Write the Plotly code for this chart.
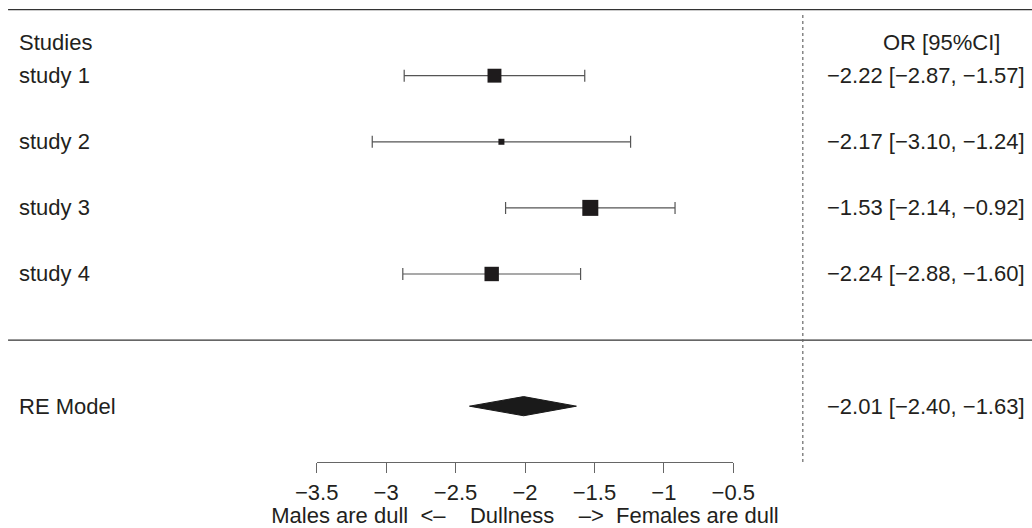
import plotly.graph_objects as go

# ---- data ----
studies = ["study 1", "study 2", "study 3", "study 4"]
est = [-2.22, -2.17, -1.53, -2.24]
ci_lo = [-2.87, -3.10, -2.14, -2.88]
ci_hi = [-1.57, -1.24, -0.92, -1.60]
row_y = [4, 3, 2, 1]

re_label = "RE Model"
re_est = -2.01
re_lo = -2.40
re_hi = -1.63
re_y = -1

tick_vals = [-3.5, -3.0, -2.5, -2.0, -1.5, -1.0, -0.5]
tick_text = ["−3.5", "−3", "−2.5", "−2", "−1.5", "−1", "−0.5"]
x_label = "Males are dull\u00a0 <–\u00a0\u00a0\u00a0 Dullness\u00a0\u00a0\u00a0 –>\u00a0 Females are dull"
header_left = "Studies"
header_right = "OR [95%CI]"
ref_x = 0.0

# ---- layout constants ----
FONT = "Liberation Sans, Arial, Helvetica, sans-serif"
TXT = "#231f20"
FS = 22
X_RANGE = [-5.780, 1.650]
Y_RANGE = [-2.843, 5.145]
LEFT_X = -5.66
RIGHT_X = 1.612
HEADER_RIGHT_X = 1.434
LINE_X0 = -5.722
AXIS_Y = -1.844


def fmt(v):
    return f"{v:.2f}".replace("-", "−")


# marker sizes from inverse-variance weights (se from CI width)
se = [(h - l) / 3.92 for l, h in zip(ci_lo, ci_hi)]
w = [1 / s ** 2 for s in se]
wmin, wmax = min(w), max(w)
sizes = [6 + (wi - wmin) / (wmax - wmin) * 10 for wi in w]

fig = go.Figure()

# CIs (error bars on an invisible trace, drawn first)
fig.add_trace(go.Scatter(
    x=est, y=row_y, mode="markers",
    marker=dict(size=1, opacity=0),
    error_x=dict(type="data", symmetric=False,
                 array=[h - e for e, h in zip(est, ci_hi)],
                 arrayminus=[e - l for e, l in zip(est, ci_lo)],
                 color="#555555", thickness=1.2, width=6),
    hoverinfo="skip"))

# squares on top
fig.add_trace(go.Scatter(
    x=est, y=row_y, mode="markers",
    marker=dict(symbol="square", size=sizes, color="#1e1b1c", opacity=1,
                line=dict(width=0)),
    hoverinfo="skip"))

# RE diamond
h = 0.145
fig.add_trace(go.Scatter(
    x=[re_lo, re_est, re_hi, re_est, re_lo],
    y=[re_y, re_y + h, re_y, re_y - h, re_y],
    mode="lines", fill="toself", fillcolor="#1a1a1a",
    line=dict(color="#1a1a1a", width=1), hoverinfo="skip"))

# dummy trace to show the tick axis
fig.add_trace(go.Scatter(x=[tick_vals[0], tick_vals[-1]], y=[AXIS_Y, AXIS_Y],
                         mode="markers", marker=dict(opacity=0),
                         xaxis="x2", yaxis="y", hoverinfo="skip"))

shapes = [
    dict(type="line", xref="x", yref="y", x0=LINE_X0, x1=X_RANGE[1], y0=5, y1=5,
         line=dict(color="#333333", width=1.2)),
    dict(type="line", xref="x", yref="y", x0=LINE_X0, x1=X_RANGE[1], y0=0, y1=0,
         line=dict(color="#333333", width=1.2)),
    dict(type="line", xref="x", yref="y", x0=ref_x, x1=ref_x, y0=AXIS_Y, y1=4.95,
         line=dict(color="#666666", width=1.2, dash="dot")),
]

ann = []
def add_text(x, y, t, anchor):
    ann.append(dict(x=x, y=y, xref="x", yref="y", text=t, showarrow=False,
                    xanchor=anchor, yanchor="middle",
                    font=dict(family=FONT, size=FS, color=TXT)))

add_text(LEFT_X, 4.5, header_left, "left")
add_text(HEADER_RIGHT_X, 4.5, header_right, "right")
for s, y, e, l, hh in zip(studies, row_y, est, ci_lo, ci_hi):
    add_text(LEFT_X, y, s, "left")
    add_text(RIGHT_X, y, f"{fmt(e)} [{fmt(l)}, {fmt(hh)}]", "right")
add_text(LEFT_X, re_y, re_label, "left")
add_text(RIGHT_X, re_y, f"{fmt(re_est)} [{fmt(re_lo)}, {fmt(re_hi)}]", "right")

fig.update_layout(
    width=1032, height=528,
    margin=dict(l=0, r=0, t=0, b=0, pad=0, autoexpand=False),
    paper_bgcolor="white", plot_bgcolor="rgba(0,0,0,0)",
    showlegend=False,
    shapes=shapes, annotations=ann,
    xaxis=dict(range=X_RANGE, visible=False, domain=[0, 1], automargin=False),
    yaxis=dict(range=Y_RANGE, visible=False, domain=[0, 1], automargin=False),
    xaxis2=dict(domain=[316.7 / 1032, 733.3 / 1032], range=[tick_vals[0], tick_vals[-1]],
                anchor="free", position=1 - 462 / 528, automargin=False,
                showline=True, linecolor="#666666", linewidth=1.2,
                ticks="outside", ticklen=10, tickwidth=1.2, tickcolor="#666666",
                tickvals=tick_vals, ticktext=tick_text,
                tickfont=dict(family=FONT, size=FS, color=TXT),
                showgrid=False, zeroline=False,
                title=dict(text=x_label, standoff=0,
                           font=dict(family=FONT, size=FS, color=TXT))),
)

fig.write_html(
    "out.html",
    config={"displayModeBar": False},
    post_script="document.body.style.margin='0';document.body.style.overflow='hidden';",
)
